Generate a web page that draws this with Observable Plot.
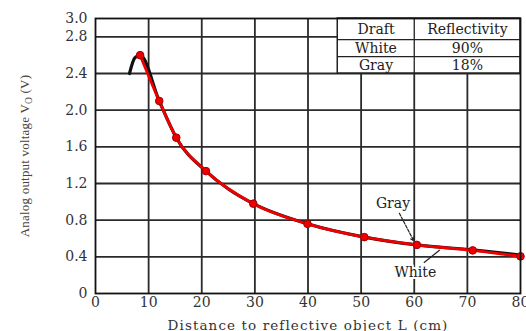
<!DOCTYPE html>
<html>
<head>
<meta charset="utf-8">
<script src="https://cdn.jsdelivr.net/npm/d3@7"></script>
<script src="https://cdn.jsdelivr.net/npm/@observablehq/plot@0.6"></script>
<style>
  html, body { margin: 0; padding: 0; background: #fff; }
  #chart svg { display: block; }
</style>
</head>
<body>
<div id="chart"></div>
<script>
// ---- data ----
const distWhite = [8.4, 12.0, 15.2, 20.8, 29.7, 39.9, 50.6, 60.5, 71.0, 80.0];
const voltWhite = [2.60, 2.10, 1.70, 1.335, 0.98, 0.76, 0.615, 0.53, 0.47, 0.405];
const distGray = [6.4, 7.4, 8.4, 12.0, 15.2, 20.8, 25.0, 29.7, 39.9, 50.6, 60.5, 71.0, 80.0];
const voltGray = [2.40, 2.57, 2.60, 2.10, 1.70, 1.335, 1.14, 0.98, 0.76, 0.615, 0.53, 0.475, 0.42];
const xTicks = [0, 10, 20, 30, 40, 50, 60, 70, 80];
const yTicks = [0, 0.4, 0.8, 1.2, 1.6, 2.0, 2.4, 2.8, 3.0];
const yGrid = [0.4, 0.8, 1.2, 1.6, 2.0, 2.4, 2.8];
const xGrid = [10, 20, 30, 40, 50, 60, 70];
const tableHeader = ["Draft", "Reflectivity"];
const tableDraft = ["White", "Gray"];
const tableReflect = ["90%", "18%"];

const white = distWhite.map((d, i) => ({x: d, y: voltWhite[i]}));
const gray = distGray.map((d, i) => ({x: d, y: voltGray[i]}));

// table layout in data space
const tX1 = 45.6, tXm = 60, tX2 = 80;
const tRows = [3.0, 2.77, 2.585, 2.4];
const tableCells = [];
tableHeader.forEach((t, j) => tableCells.push({t, x: j ? (tXm + tX2) / 2 : (tX1 + tXm) / 2, y: (tRows[0] + tRows[1]) / 2}));
tableDraft.forEach((t, i) => tableCells.push({t, x: (tX1 + tXm) / 2, y: (tRows[i + 1] + tRows[i + 2]) / 2}));
tableReflect.forEach((t, i) => tableCells.push({t, x: (tXm + tX2) / 2, y: (tRows[i + 1] + tRows[i + 2]) / 2}));

const serifWide = "'DejaVu Serif', serif";
const ink = "#333";

const plot = Plot.plot({
  width: 526,
  height: 331,
  marginLeft: 95,
  marginRight: 6,
  marginTop: 18,
  marginBottom: 38,
  style: {background: "#fff", fontFamily: serifWide, color: ink, overflow: "hidden"},
  x: {domain: [0, 80], ticks: xTicks, label: null},
  y: {domain: [0, 3.0], ticks: yTicks, label: null},
  marks: [
    Plot.ruleY(yGrid, {stroke: "#2a2a2a", strokeWidth: 1.8}),
    Plot.ruleX(xGrid, {stroke: "#2a2a2a", strokeWidth: 1.8}),
    // table
    Plot.rect([0], {x1: tX1, x2: tX2, y1: tRows[3], y2: tRows[0], fill: "#fff", stroke: "#222", strokeWidth: 1.5}),
    Plot.ruleY([tRows[1], tRows[2]], {x1: tX1, x2: tX2, stroke: "#222", strokeWidth: 1.3}),
    Plot.ruleX([tXm], {y1: tRows[3], y2: tRows[0], stroke: "#222", strokeWidth: 1.3}),
    Plot.text(tableCells, {x: "x", y: "y", text: "t", fontSize: 14, fill: "#222", fontFamily: serifWide, style: "letter-spacing:0.9px"}),
    // curves
    Plot.line(gray, {x: "x", y: "y", stroke: "#111", strokeWidth: 3.2, curve: "monotone-x"}),
    Plot.line(white, {x: "x", y: "y", stroke: "#ee0000", strokeWidth: 2.8, curve: "monotone-x"}),
    Plot.dot(white, {x: "x", y: "y", r: 3.8, fill: "#ee0000", stroke: "#a00000", strokeWidth: 1}),
    // annotations
    Plot.arrow([0], {x1: 57.2, y1: 0.875, x2: 59.9, y2: 0.575, stroke: "#222", strokeWidth: 1.2, strokeDasharray: "3,1.5", headLength: 5}),
    Plot.link([0], {x1: 61.8, y1: 0.335, x2: 64.8, y2: 0.475, stroke: "#222", strokeWidth: 1.2}),
    Plot.text(["Gray"], {x: 56.0, y: 0.98, fontSize: 14, fill: "#222", stroke: "#fff", strokeWidth: 4, fontFamily: serifWide, style: "letter-spacing:0.9px"}),
    Plot.text(["White"], {x: 60.2, y: 0.225, fontSize: 14, fill: "#222", stroke: "#fff", strokeWidth: 4, fontFamily: serifWide, style: "letter-spacing:0.9px"}),
    Plot.frame({stroke: "#111", strokeWidth: 1.8}),
    // axes
    Plot.axisX({ticks: xTicks, tickSize: 0, tickPadding: 4, fontSize: 14, fill: ink, style: "letter-spacing:1.8px",
      label: "Distance to reflective object L (cm)", labelArrow: "none", labelAnchor: "center", labelOffset: 36}),
    Plot.axisY({ticks: yTicks, tickSize: 0, tickPadding: 8, fontSize: 14, fill: ink, style: "letter-spacing:1.8px",
      tickFormat: d => d === 0 ? "0" : d3.format(".1f")(d),
      label: "Analog output voltage VO (V)", labelArrow: "none", labelAnchor: "center", labelOffset: 76})
  ]
});

document.getElementById("chart").appendChild(plot);

// style axis labels; make the O of V_O a subscript
const xLab = plot.querySelector('g[aria-label="x-axis label"]');
if (xLab) {
  xLab.setAttribute("font-size", "13.5");
  xLab.setAttribute("style", "letter-spacing:1.1px");
  xLab.querySelectorAll("text").forEach(t => { t.textContent = t.textContent.replace(/\s*[→←↑↓]\s*/g, "").trim(); });
}
const yLabG = plot.querySelector('g[aria-label="y-axis label"]');
if (yLabG) {
  yLabG.setAttribute("font-size", "13");
  yLabG.setAttribute("font-family", "'Liberation Serif', serif");
  yLabG.setAttribute("fill", "#444");
  yLabG.setAttribute("style", "letter-spacing:0.2px");
  const t = yLabG.querySelector("text");
  if (t) {
    const ns = "http://www.w3.org/2000/svg";
    t.textContent = "";
    const a = document.createElementNS(ns, "tspan"); a.textContent = "Analog output voltage V";
    const b = document.createElementNS(ns, "tspan"); b.textContent = "O"; b.setAttribute("font-size", "9.5"); b.setAttribute("dy", "3");
    const c = document.createElementNS(ns, "tspan"); c.textContent = " (V)"; c.setAttribute("dy", "-3");
    t.append(a, b, c);
  }
}
</script>
</body>
</html>
